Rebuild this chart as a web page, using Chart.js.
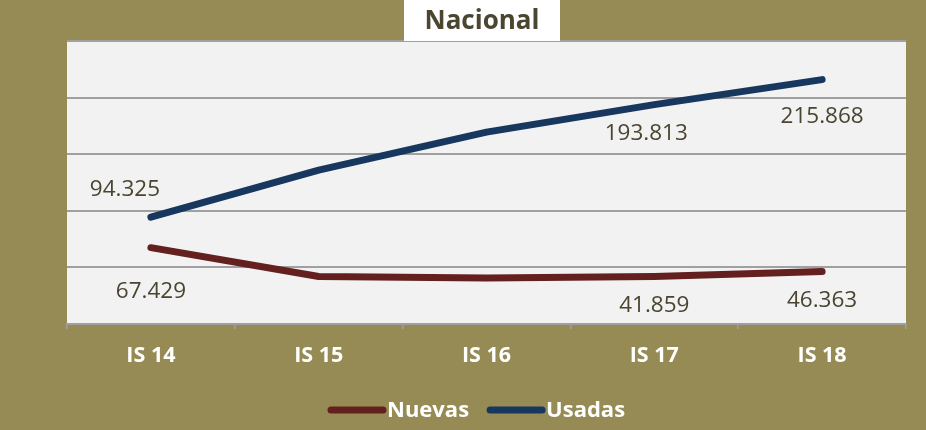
<!DOCTYPE html>
<html>
<head>
<meta charset="utf-8">
<script src="https://cdn.jsdelivr.net/npm/chart.js@4/dist/chart.umd.min.js"></script>
<style>
html,body{margin:0;padding:0;background:#968B55;}
#wrap{width:926px;height:430px;position:relative;}
</style>
</head>
<body>
<div id="wrap"><canvas id="c" width="926" height="430"></canvas></div>
<script>
const categories = ["IS 14", "IS 15", "IS 16", "IS 17", "IS 18"];
const seriesNames = ["Nuevas", "Usadas"];
const nuevas = [67.429, 42.0, 40.6, 41.859, 46.363];
const usadas = [94.325, 136.0, 169.5, 193.813, 215.868];
const nuevasLabels = ["67.429", "", "", "41.859", "46.363"];
const usadasLabels = ["94.325", "", "", "193.813", "215.868"];
const yTicks = [0, 50, 100, 150, 200, 250];
const chartTitle = "Nacional";

const FONT = "'Open Sans', sans-serif";
const BG = "#968B55";
const colors = ["#64201F", "#17375E"];

// label offsets (style): [dx, dy] relative to point
const labelOffsets = [
  [[0, 44], null, null, [0, 29], [0, 29]],
  [[-26, -28], null, null, [-8, 29], [0, 37]]
];

const decorPlugin = {
  id: 'decor',
  beforeDraw(chart) {
    const ctx = chart.ctx, a = chart.chartArea;
    ctx.save();
    ctx.fillStyle = BG;
    ctx.fillRect(0, 0, chart.width, chart.height);
    ctx.fillStyle = "#F2F2F2";
    ctx.fillRect(a.left, a.top, a.right - a.left, a.bottom - a.top);
    ctx.restore();
  },
  afterDraw(chart) {
    const ctx = chart.ctx;
    ctx.save();
    // data labels
    ctx.font = "22.5px " + FONT;
    ctx.fillStyle = "#4A4530";
    ctx.textAlign = "center";
    ctx.textBaseline = "middle";
    const lbls = [nuevasLabels, usadasLabels];
    chart.data.datasets.forEach((ds, di) => {
      const meta = chart.getDatasetMeta(di);
      meta.data.forEach((pt, i) => {
        const t = lbls[di][i];
        const off = labelOffsets[di][i];
        if (!t || !off) return;
        ctx.fillText(t, pt.x + off[0], pt.y + off[1]);
      });
    });
    // title box
    ctx.fillStyle = "#FFFFFF";
    ctx.fillRect(404, 0, 156, 41);
    ctx.font = "bold 26px " + FONT;
    ctx.fillStyle = "#4A4630";
    ctx.fillText(chartTitle, 482, 22);
    // legend
    ctx.font = "bold 22px " + FONT;
    ctx.textAlign = "left";
    let x = 328;
    const ly = 410;
    chart.data.datasets.forEach((ds, di) => {
      ctx.strokeStyle = ds.borderColor;
      ctx.lineWidth = 7;
      ctx.lineCap = "round";
      ctx.beginPath();
      ctx.moveTo(x + 3, ly);
      ctx.lineTo(x + 55, ly);
      ctx.stroke();
      ctx.fillStyle = "#FFFFFF";
      ctx.fillText(ds.label, x + 59, ly + 1);
      x += 59 + ctx.measureText(ds.label).width + 18;
    });
    ctx.restore();
  }
};

new Chart(document.getElementById('c'), {
  type: 'line',
  data: {
    labels: categories,
    datasets: [
      { label: seriesNames[0], data: nuevas, borderColor: colors[0], backgroundColor: colors[0],
        borderWidth: 7, pointRadius: 0, tension: 0, borderCapStyle: 'round', borderJoinStyle: 'round' },
      { label: seriesNames[1], data: usadas, borderColor: colors[1], backgroundColor: colors[1],
        borderWidth: 7, pointRadius: 0, tension: 0, borderCapStyle: 'round', borderJoinStyle: 'round' }
    ]
  },
  options: {
    responsive: false,
    animation: false,
    devicePixelRatio: 1,
    layout: { padding: { top: 41, left: 67, right: 20, bottom: 0 } },
    plugins: { legend: { display: false }, title: { display: false }, tooltip: { enabled: false } },
    scales: {
      x: {
        offset: true,
        grid: { display: true, drawOnChartArea: false, drawTicks: true, tickLength: 5, color: '#A0A0A0', lineWidth: 1.5, offset: true },
        border: { display: true, color: '#A0A0A0', width: 2 },
        ticks: { color: '#FFFFFF', font: { family: FONT, size: 21.5, weight: 'bold' }, padding: 14 },
        afterFit(s) { s.height = 106; }
      },
      y: {
        min: 0, max: 250,
        afterBuildTicks(s) { s.ticks = yTicks.map(v => ({ value: v })); },
        grid: { color: '#A0A0A0', lineWidth: 2, drawTicks: false },
        border: { display: false },
        ticks: { display: false },
        afterFit(s) { s.width = 0; }
      }
    }
  },
  plugins: [decorPlugin]
});
</script>
</body>
</html>
